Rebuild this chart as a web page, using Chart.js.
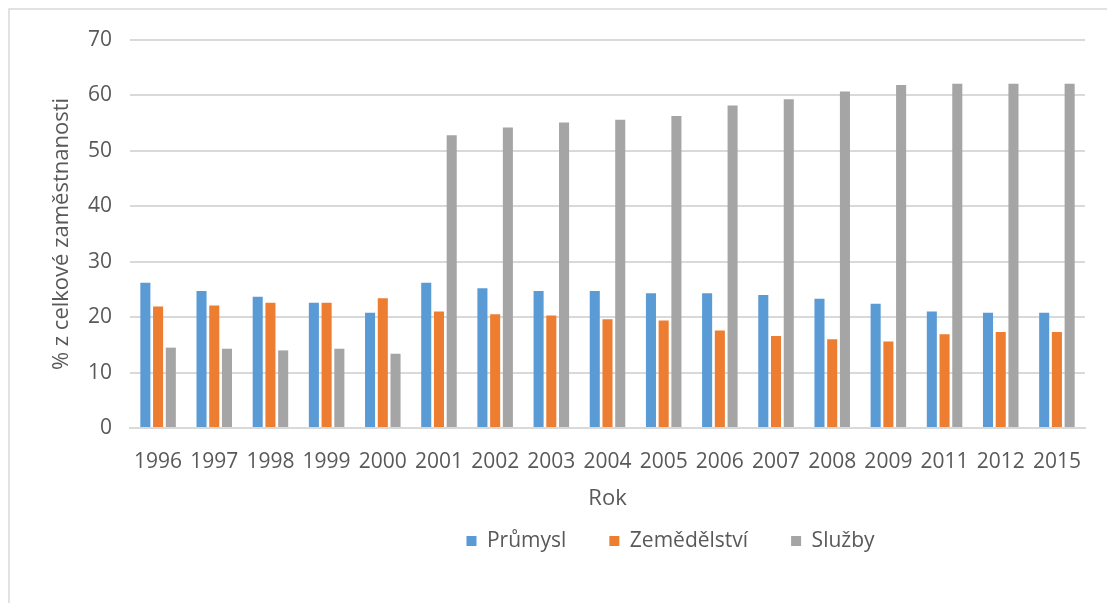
<!DOCTYPE html>
<html>
<head>
<meta charset="utf-8">
<script src="https://cdn.jsdelivr.net/npm/chart.js@4"></script>
<style>
  html, body { margin: 0; padding: 0; background: #fff; }
  #wrap { position: relative; width: 1107px; height: 603px; }
  canvas { display: block; }
</style>
</head>
<body>
<div id="wrap"><canvas id="c" width="1107" height="603"></canvas></div>
<script>
const years = ["1996","1997","1998","1999","2000","2001","2002","2003","2004","2005","2006","2007","2008","2009","2011","2012","2015"];
const prumysl = [26.2,24.7,23.7,22.6,20.8,26.2,25.2,24.7,24.7,24.3,24.3,24.0,23.3,22.4,21.0,20.8,20.8];
const zemedelstvi = [21.9,22.1,22.6,22.6,23.4,21.0,20.5,20.3,19.6,19.4,17.6,16.6,16.0,15.6,16.9,17.3,17.3];
const sluzby = [14.5,14.3,14.0,14.3,13.4,52.8,54.2,55.1,55.6,56.3,58.2,59.3,60.7,61.9,62.1,62.1,62.1];
const seriesNames = ["Průmysl","Zemědělství","Služby"];
const yTitle = "% z celkové zaměstnanosti";
const xTitle = "Rok";

const FONT = "'Open Sans', 'Noto Sans', sans-serif";
const TXT = "#595959";
const GRID = "#d9d9d9";

const framePlugin = {
  id: 'frame',
  beforeDraw(chart) {
    const ctx = chart.ctx;
    ctx.save();
    ctx.fillStyle = '#fff';
    ctx.fillRect(0, 0, chart.width, chart.height);
    ctx.strokeStyle = GRID;
    ctx.lineWidth = 1.5;
    ctx.beginPath();
    ctx.moveTo(9, chart.height + 5);
    ctx.lineTo(9, 9);
    ctx.lineTo(chart.width + 5, 9);
    ctx.stroke();
    ctx.restore();
  }
};

// place the legend where the reference shows it (centre x 670, item row centre y 541)
const legendShift = {
  id: 'legendShift',
  afterLayout(chart) {
    const lg = chart.legend;
    if (!lg) return;
    const dx = 670.5 - (lg.left + lg.right) / 2;
    const dy = 487.5 - lg.top;
    lg.left += dx; lg.right += dx;
    lg.top += dy; lg.bottom += dy;
  }
};

new Chart(document.getElementById('c'), {
  type: 'bar',
  data: {
    labels: years,
    datasets: [
      { label: seriesNames[0], data: prumysl, backgroundColor: '#5B9BD5' },
      { label: seriesNames[1], data: zemedelstvi, backgroundColor: '#ED7D31' },
      { label: seriesNames[2], data: sluzby, backgroundColor: '#A5A5A5' }
    ]
  },
  options: {
    responsive: false,
    animation: false,
    devicePixelRatio: 1,
    layout: { padding: { top: 40, right: 22, bottom: 8, left: 0 } },
    datasets: { bar: { categoryPercentage: 0.68, barPercentage: 0.79 } },
    scales: {
      x: {
        grid: { display: false, drawTicks: false },
        border: { display: true, color: GRID, width: 2 },
        ticks: { color: TXT, font: { family: FONT, size: 21 }, padding: 21, maxRotation: 0, autoSkip: false },
        title: { display: true, text: xTitle, color: TXT, font: { family: FONT, size: 22 }, padding: { top: 4, bottom: 9 } },
        afterFit(scale) { scale.height = 93; }
      },
      y: {
        min: 0, max: 70,
        ticks: { stepSize: 10, color: TXT, font: { family: FONT, size: 21 }, padding: 18 },
        grid: { color: GRID, lineWidth: 2, drawTicks: false },
        border: { display: false },
        title: { display: true, text: yTitle, color: TXT, font: { family: FONT, size: 22 }, padding: { top: 49, bottom: 0 } },
        afterFit(scale) { scale.width = 130; }
      }
    },
    plugins: {
      legend: {
        position: 'bottom',
        labels: { color: TXT, font: { family: FONT, size: 21 }, boxWidth: 10, boxHeight: 10, padding: 43 }
      },
      tooltip: { enabled: false }
    }
  },
  plugins: [framePlugin, legendShift]
});
</script>
</body>
</html>
